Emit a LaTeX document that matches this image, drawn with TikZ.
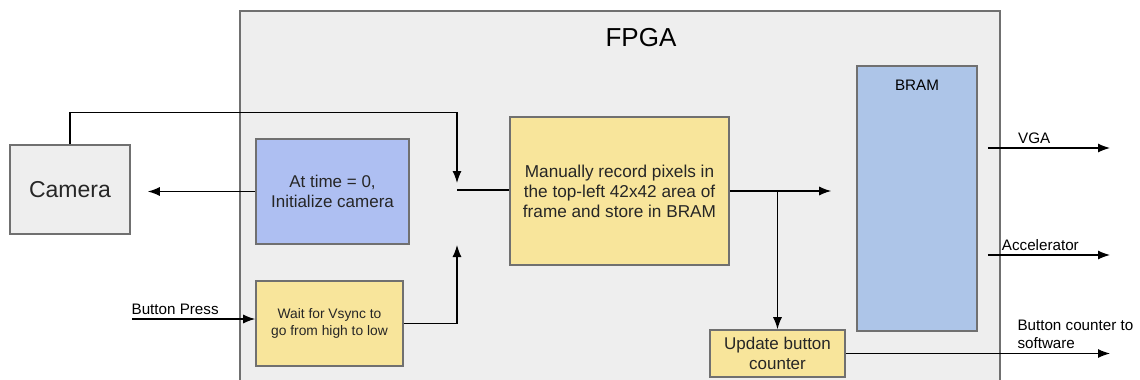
\documentclass[tikz,border=0pt]{standalone}
\usepackage{fontspec}
\setmainfont{Liberation Sans}
\usepackage{tikz}
\usetikzlibrary{shapes}
\usetikzlibrary{arrows.meta}
\definecolor{grisfond}{HTML}{EEEEEE}
\definecolor{grisbord}{HTML}{707070}
\definecolor{bleuinit}{HTML}{AEBFF2}
\definecolor{bleubram}{HTML}{ADC5E8}
\definecolor{jaune}{HTML}{F8E59B}
\begin{document}
\begin{tikzpicture}[x=0.5pt,y=-0.5pt]
\tikzstyle{bloc}=[rectangle,draw=grisbord,thick,inner sep=2pt,align=center,text=black!85]
\tikzstyle{operation}=[-{Latex[length=6pt,width=4.5pt]},semithick]
\tikzstyle{etiquette}=[font=\fontsize{7.6}{9}\selectfont,inner sep=1pt]
\useasboundingbox (0,0) rectangle (1140,380);
% la carte
\draw[draw=grisbord,fill=grisfond,thick] (240,11) rectangle (1000,395);
\node[font=\fontsize{13}{15}\selectfont] (fpga) at (641,38) {FPGA};
% les blocs
\node[bloc,fill=grisfond,minimum width=60pt,minimum height=44.5pt,font=\fontsize{11.5}{13}\selectfont] (camera) at (70,189.5) {Camera};
\node[bloc,fill=bleuinit,minimum width=76.5pt,minimum height=52.5pt,font=\fontsize{8.5}{10}\selectfont] (init) at (332.5,191.5) {At time = 0,\\ Initialize camera};
\node[bloc,fill=jaune,minimum width=73.5pt,minimum height=42.5pt,font=\fontsize{6.9}{8.8}\selectfont] (attente) at (329.5,323.5) {Wait for Vsync to\\ go from high to low};
\node[bloc,fill=jaune,minimum width=109.5pt,minimum height=74pt,font=\fontsize{8.6}{10}\selectfont] (pixels) at (619.5,191) {Manually record pixels in\\ the top-left 42x42 area of\\ frame and store in BRAM};
\node[bloc,fill=jaune,minimum width=67.5pt,minimum height=23.5pt,font=\fontsize{8.5}{10}\selectfont] (compteur) at (777.5,353.5) {Update button\\ counter};
\node[bloc,fill=bleubram,minimum width=60pt,minimum height=132.5pt,
  label={[anchor=north,yshift=-4pt,font=\fontsize{7.6}{9}\selectfont]north:BRAM}] (bram) at (917,198.5) {};
% points de passage
\coordinate (haut) at (457,183);
\coordinate (jonction) at (457,190);
\coordinate (bas) at (457,245);
\coordinate (bouton) at (132,319);
\coordinate (vga) at (1110,148);
\coordinate (accel) at (1110,255);
\coordinate (logiciel) at (1110,353.5);
%flèches
\draw[operation] (camera.north) -- ++(0,-32) -| (haut);
\draw[operation,shorten >=8.5pt] (init.west) -- (init.west -| camera.east);
\draw[operation] (bouton) -- (bouton -| attente.west) node[etiquette,pos=0.35,above=1pt]{Button Press};
\draw[operation] (attente.east) -| (bas);
\draw[semithick] (jonction) -- (jonction -| pixels.west);
\draw[operation,shorten >=12.5pt] (pixels.east) -- (pixels.east -| bram.west);
\draw[operation] (pixels.east -| compteur.north) -- (compteur.north);
\draw[operation] ([xshift=5pt]bram.east |- vga) -- (vga) node[etiquette,pos=0.38,above=1pt]{VGA};
\draw[operation] ([xshift=5pt]bram.east |- accel) -- (accel) node[etiquette,pos=0.43,above=1pt]{Accelerator};
\draw[operation] (compteur.east) -- (logiciel) node[etiquette,pos=0.64,anchor=south west,align=left,yshift=1pt]{Button counter to\\ software};
\end{tikzpicture}
\end{document}
